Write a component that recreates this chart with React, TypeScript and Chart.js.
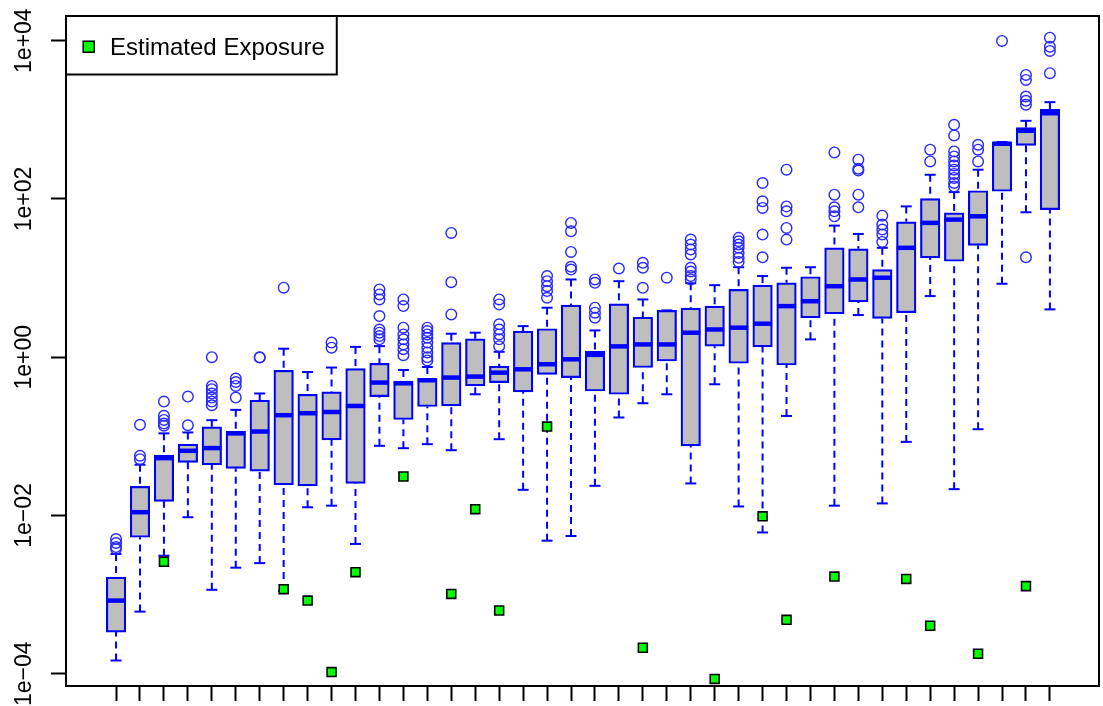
import React, { useEffect, useRef } from "react";
import { Chart, registerables } from "chart.js";

Chart.register(...registerables);

// ---- data ----
const boxIds = [1, 2, 3, 4, 5, 6, 7, 8, 9, 10, 11, 12, 13, 14, 15, 16, 17, 18, 19, 20,
  21, 22, 23, 24, 25, 26, 27, 28, 29, 30, 31, 32, 33, 34, 35, 36, 37, 38, 39, 40];

const whiskerLow = [1.47e-4, 6.1e-4, 3.1e-3, 9.5e-3, 1.15e-3, 2.19e-3, 2.5e-3, 1.11e-3, 0.0127, 0.0133,
  4.37e-3, 0.0759, 0.0708, 0.0796, 0.0668, 0.34, 0.092, 0.0211, 4.8e-3, 5.5e-3,
  0.0237, 0.173, 0.262, 0.34, 0.0254, 0.455, 0.013, 6.1e-3, 0.181, 1.68,
  0.0133, 3.41, 0.0142, 0.0851, 5.92, 0.0215, 0.123, 8.47, 67.8, 4.02];

const quartile1 = [3.36e-4, 5.3e-3, 0.0151, 0.0469, 0.0437, 0.0393, 0.0363, 0.0244, 0.0237, 0.0901,
  0.0254, 0.318, 0.163, 0.238, 0.242, 0.433, 0.477, 0.364, 0.608, 0.552,
  0.374, 0.34, 0.74, 0.895, 0.0759, 1.38, 0.838, 1.35, 0.796, 3.15,
  3.54, 5.02, 3.09, 3.65, 18, 16.3, 25.8, 125, 474, 73.3];

const medians = [8.4e-4, 0.011, 0.053, 0.0656, 0.071, 0.109, 0.115, 0.185, 0.196, 0.203,
  0.242, 0.478, 0.468, 0.511, 0.553, 0.569, 0.638, 0.703, 0.815, 0.94,
  1.07, 1.37, 1.45, 1.45, 2.04, 2.24, 2.36, 2.65, 4.42, 5.1,
  7.89, 9.6, 10.1, 24.1, 49.8, 54.8, 60.3, 498, 726, 1210];

const quartile3 = [1.66e-3, 0.0233, 0.058, 0.0798, 0.132, 0.116, 0.286, 0.683, 0.34, 0.364,
  0.718, 0.838, 0.5, 0.537, 1.53, 1.71, 0.773, 2.14, 2.29, 4.55,
  1.19, 4.73, 3.2, 3.9, 4.17, 4.42, 7.18, 8.13, 8.71, 10.4,
  24.1, 23.4, 12.8, 51.3, 101, 66.5, 127, 524, 800, 1360];

const whiskerHigh = [3.26e-3, 0.0438, 0.109, 0.112, 0.16, 0.216, 0.348, 1.28, 0.649, 0.74,
  1.35, 1.38, 0.689, 0.752, 1.98, 2.04, 1.17, 2.47, 4.22, 9.6,
  2.18, 9.13, 5.37, 3.9, 8.6, 8.13, 13.7, 10.6, 13.5, 13.7,
  46, 36.1, 24.1, 80.5, 202, 122, 234, 524, 970, 1670];

const outliers: number[][] = [
  [5.03e-3, 4.49e-3, 3.99e-3, 3.77e-3],
  [0.14, 0.0568, 0.0515],
  [0.275, 0.182, 0.161, 0.145, 0.136],
  [0.318, 0.138],
  [1.0, 0.434, 0.394, 0.347, 0.309, 0.275, 0.247],
  [0.537, 0.486, 0.434, 0.309],
  [0.99, 1.0],
  [7.55],
  [],
  [1.53, 1.32],
  [],
  [7.18, 6.21, 5.37, 3.31, 2.24, 2.04, 1.85, 1.68],
  [5.37, 4.42, 2.36, 1.94, 1.68, 1.45, 1.26, 1.06],
  [2.36, 2.14, 1.94, 1.76, 1.53, 1.32, 1.15, 1.0, 0.91],
  [37.2, 8.87, 3.47],
  [],
  [5.37, 4.65, 2.6, 2.24, 1.94, 1.68, 1.38],
  [],
  [10.6, 9.14, 7.9, 6.84, 5.64],
  [49.8, 39, 21.4, 13.9, 12.8],
  [9.6, 8.71, 4.22, 3.65, 3.15],
  [13.2],
  [15.6, 13.5, 7.53],
  [10.1],
  [30.7, 26.5, 23, 19.9, 13.5, 12.1, 10.6, 9.6],
  [],
  [32.2, 29.2, 26.5, 24.1, 20.8, 18, 16],
  [159, 93.3, 76.9, 35.4, 18.3],
  [234, 80.5, 69.7, 43, 30.6],
  [],
  [387, 113, 78.4, 69.7, 60.3],
  [313, 241, 228, 113, 78.4],
  [61.5, 47.4, 41, 35.5, 28.6],
  [],
  [419, 298],
  [865, 634, 398, 344, 298, 265, 234, 207, 184, 159, 144],
  [484, 419, 298],
  [9910],
  [3690, 3190, 1970, 1740, 1550, 18.3],
  [10900, 8400, 7410, 3880],
];

const estimatedExposure: (number | null)[] = [null, null, 2.6e-3, null, null, null, null, 1.17e-3, 8.4e-4, 1.05e-4,
  1.92e-3, null, 0.0311, null, 1.02e-3, 0.012, 6.3e-4, null, 0.133, null,
  null, null, 2.13e-4, null, null, 8.6e-5, null, 9.75e-3, 4.8e-4, null,
  1.69e-3, null, null, 1.58e-3, 4.04e-4, null, 1.79e-4, null, 1.28e-3, null];

const yTickValues = [1e-4, 1e-2, 1, 1e2, 1e4];
const yTickLabels = ["1e\u221204", "1e\u221202", "1e+00", "1e+02", "1e+04"];
const legendLabel = "Estimated Exposure";

const BLUE = "#0000FF";
const FONT = '"Liberation Sans", Arial, Helvetica, sans-serif';

const framePlugin = {
  id: "rframe",
  afterDraw(chart: any) {
    const { ctx, chartArea: a } = chart;
    ctx.save();
    ctx.strokeStyle = "#000";
    ctx.lineWidth = 2;
    ctx.strokeRect(a.left, a.top, a.right - a.left, a.bottom - a.top);
    // legend box (top-left, inside plot)
    ctx.font = `24px ${FONT}`;
    const tw = ctx.measureText(legendLabel).width;
    const lx = a.left;
    const ly = a.top;
    const lw = 44 + tw + 12;
    const lh = 58.5;
    ctx.fillStyle = "#fff";
    ctx.fillRect(lx, ly, lw, lh);
    ctx.strokeRect(lx, ly, lw, lh);
    ctx.fillStyle = "#00FF00";
    ctx.fillRect(lx + 17.2, ly + 25.2, 11, 11);
    ctx.lineWidth = 1.5;
    ctx.strokeRect(lx + 17.2, ly + 25.2, 11, 11);
    ctx.fillStyle = "#000";
    ctx.textBaseline = "alphabetic";
    ctx.textAlign = "left";
    ctx.fillText(legendLabel, lx + 44, ly + 38.5);
    ctx.restore();
  },
};

export default function App() {
  const ref = useRef<HTMLCanvasElement>(null);

  useEffect(() => {
    document.body.style.margin = "0";
    const canvas = ref.current!;

    const boxData = boxIds.map((id, i) => ({ x: id, y: [quartile1[i], quartile3[i]] }));
    const medianData = boxIds.map((id, i) => ({ x: id, y: medians[i] }));
    const stapleData = boxIds.flatMap((id, i) => [
      { x: id, y: whiskerLow[i] },
      { x: id, y: whiskerHigh[i] },
    ]);
    const whiskerData = boxIds.flatMap((id, i) => [
      { x: id, y: whiskerHigh[i] },
      { x: id, y: quartile3[i] },
      { x: id, y: null },
      { x: id, y: whiskerLow[i] },
      { x: id, y: quartile1[i] },
      { x: id, y: null },
    ]);
    const outlierData = boxIds.flatMap((id, i) => outliers[i].map((v) => ({ x: id, y: v })));
    const exposureData = boxIds
      .map((id, i) => ({ x: id, y: estimatedExposure[i] }))
      .filter((p) => p.y !== null);

    const chart = new Chart(canvas, {
      type: "bar",
      data: {
        datasets: [
          {
            type: "scatter",
            label: legendLabel,
            data: exposureData as any,
            order: 0,
            pointStyle: "rect",
            pointRadius: 6.3,
            pointBackgroundColor: "#00FF00",
            pointBorderColor: "#000",
            pointBorderWidth: 1.6,
          },
          {
            type: "scatter",
            label: "outliers",
            data: outlierData as any,
            order: 1,
            pointStyle: "circle",
            pointRadius: 5.3,
            pointBackgroundColor: "rgba(0,0,0,0)",
            pointBorderColor: "rgb(40,40,255)",
            pointBorderWidth: 1.4,
          },
          {
            type: "scatter",
            label: "medians",
            data: medianData as any,
            order: 2,
            pointStyle: "line",
            pointRadius: 9.6,
            pointBorderColor: BLUE,
            pointBorderWidth: 4.5,
          },
          {
            type: "bar",
            label: "boxes",
            data: boxData as any,
            order: 3,
            barThickness: 19.5,
            backgroundColor: "#BEBEBE",
            borderColor: BLUE,
            borderWidth: 2.2,
            borderSkipped: false,
          },
          {
            type: "scatter",
            label: "staples",
            data: stapleData as any,
            order: 4,
            pointStyle: "line",
            pointRadius: 5.5,
            pointBorderColor: BLUE,
            pointBorderWidth: 2,
          },
          {
            type: "line",
            label: "whiskers",
            data: whiskerData as any,
            order: 5,
            borderColor: BLUE,
            borderWidth: 2,
            borderDash: [7, 5],
            pointRadius: 0,
            spanGaps: false,
            fill: false,
          },
        ],
      },
      options: {
        responsive: false,
        animation: false,
        events: [],
        layout: { autoPadding: false, padding: { top: 16, right: 4, left: 0, bottom: 0 } },
        plugins: { legend: { display: false }, tooltip: { enabled: false } },
        scales: {
          x: {
            type: "linear",
            min: -1.09,
            max: 42.05,
            offset: false,
            afterBuildTicks: (s: any) => {
              s.ticks = boxIds.map((v) => ({ value: v }));
            },
            afterFit: (s: any) => {
              s.height = 20;
            },
            grid: {
              offset: false,
              drawOnChartArea: false,
              drawTicks: true,
              tickLength: 15,
              tickWidth: 2,
              tickColor: "#000",
            },
            border: { display: false },
            ticks: { display: false },
          },
          y: {
            type: "logarithmic",
            min: Math.pow(10, -4.135),
            max: Math.pow(10, 4.3115),
            afterBuildTicks: (s: any) => {
              s.ticks = yTickValues.map((v) => ({ value: v }));
            },
            afterFit: (s: any) => {
              s.width = 66;
            },
            grid: {
              offset: false,
              drawOnChartArea: false,
              drawTicks: true,
              tickLength: 15,
              tickWidth: 2,
              tickColor: "#000",
            },
            border: { display: false },
            ticks: {
              autoSkip: false,
              minRotation: 90,
              maxRotation: 90,
              crossAlign: "center",
              padding: -6,
              color: "#000",
              font: { family: FONT, size: 23 },
              callback: (_v: any, i: number) => yTickLabels[i],
            },
          },
        },
      },
      plugins: [framePlugin],
    });

    return () => chart.destroy();
  }, []);

  return <canvas ref={ref} width={1103} height={706} style={{ display: "block" }} />;
}
